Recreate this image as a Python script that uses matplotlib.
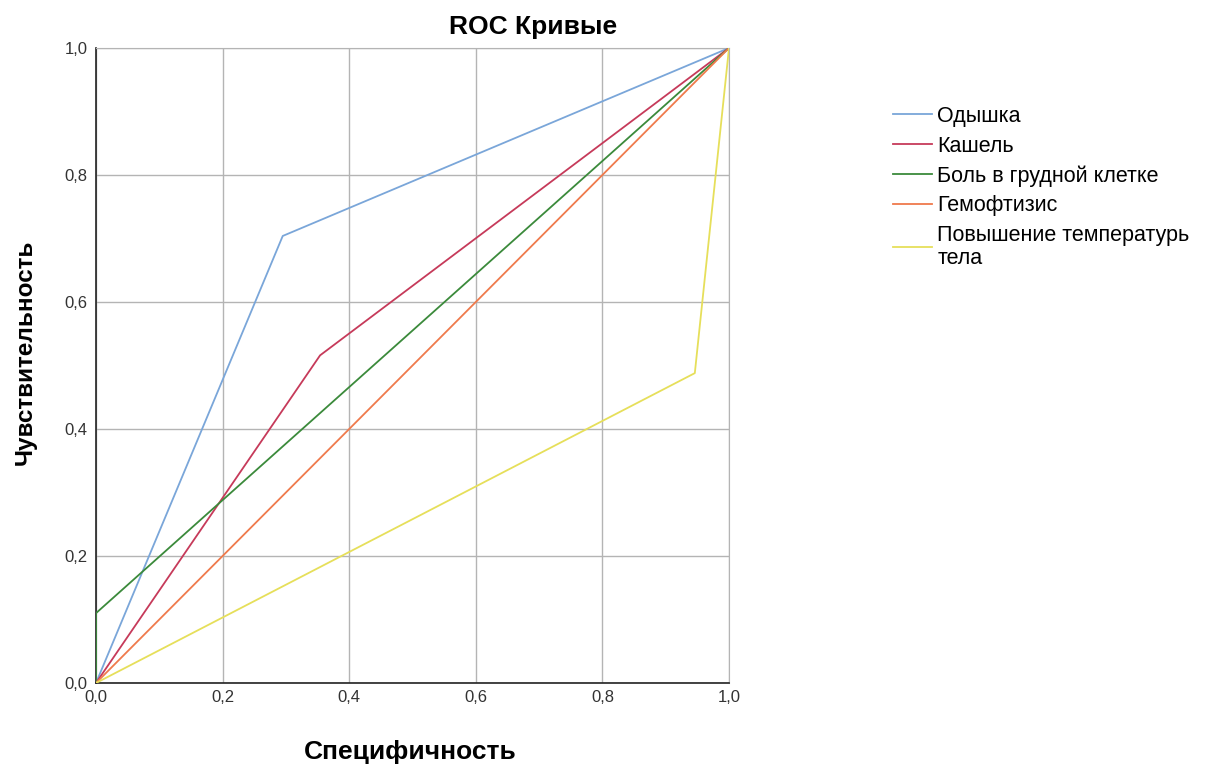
import matplotlib
matplotlib.use("Agg")
import matplotlib.pyplot as plt
from matplotlib.ticker import FuncFormatter

plt.rcParams['font.family'] = ['Liberation Sans', 'DejaVu Sans']

# ROC curves: x = specificity axis, y = sensitivity
labels = ["Одышка", "Кашель", "Боль в грудной клетке", "Гемофтизис",
          "Повышение температурь\nтела"]
colors = ["#7aa6d9", "#c63a5a", "#3b8a3b", "#ef7a4c", "#e6df5a"]

dyspnea_x = [0.0, 0.295, 1.0]
dyspnea_y = [0.0, 0.704, 1.0]
cough_x = [0.0, 0.354, 1.0]
cough_y = [0.0, 0.516, 1.0]
chest_x = [0.0, 0.0, 1.0]
chest_y = [0.0, 0.11, 1.0]
hemo_x = [0.0, 1.0]
hemo_y = [0.0, 1.0]
fever_x = [0.0, 0.946, 1.0]
fever_y = [0.0, 0.488, 1.0]

curves = [(dyspnea_x, dyspnea_y), (cough_x, cough_y), (chest_x, chest_y),
          (hemo_x, hemo_y), (fever_x, fever_y)]
ticks = [0.0, 0.2, 0.4, 0.6, 0.8, 1.0]

fig = plt.figure(figsize=(12.05, 7.66), dpi=100)
ax = fig.add_axes([96 / 1205, 83 / 766, 633 / 1205, 635 / 766])

for (xs, ys), lab, c in zip(curves, labels, colors):
    ax.plot(xs, ys, color=c, linewidth=1.3, label=lab, zorder=3)

ax.set_xlim(0, 1)
ax.set_ylim(0, 1)
ax.set_xticks(ticks)
ax.set_yticks(ticks)
fmt = FuncFormatter(lambda v, p: f"{v:.1f}".replace(".", ","))
ax.xaxis.set_major_formatter(fmt)
ax.yaxis.set_major_formatter(fmt)
ax.tick_params(length=0, labelsize=12, colors="#333333")
ax.tick_params(axis="x", pad=5)
ax.tick_params(axis="y", pad=6)
ax.grid(True, color="#b4b4b4", linewidth=1)
ax.set_axisbelow(True)
for s in ["top", "right"]:
    ax.spines[s].set_color("#b4b4b4")
for s in ["left", "bottom"]:
    ax.spines[s].set_color("#222222")
    ax.spines[s].set_linewidth(1.2)

fig.text(533 / 1205, 1 - 27 / 766, "ROC Кривые", ha="center", va="center",
         fontsize=19, fontweight="bold")
fig.text(410 / 1205, 1 - 752 / 766, "Специфичность", ha="center", va="center",
         fontsize=19, fontweight="bold")
fig.text(25 / 1205, 1 - 352 / 766, "Чувствительность", ha="center", va="center",
         rotation=90, fontsize=17.5, fontweight="bold")

leg = fig.legend(loc="upper left", bbox_to_anchor=(893 / 1205, 1 - 106 / 766),
                 frameon=False, borderpad=0, borderaxespad=0, fontsize=15.5,
                 handlelength=1.8, handletextpad=0.25, labelspacing=0.4)
for t in leg.get_texts():
    t.set_linespacing(1.1)

fig.savefig("out.png", dpi=100)
